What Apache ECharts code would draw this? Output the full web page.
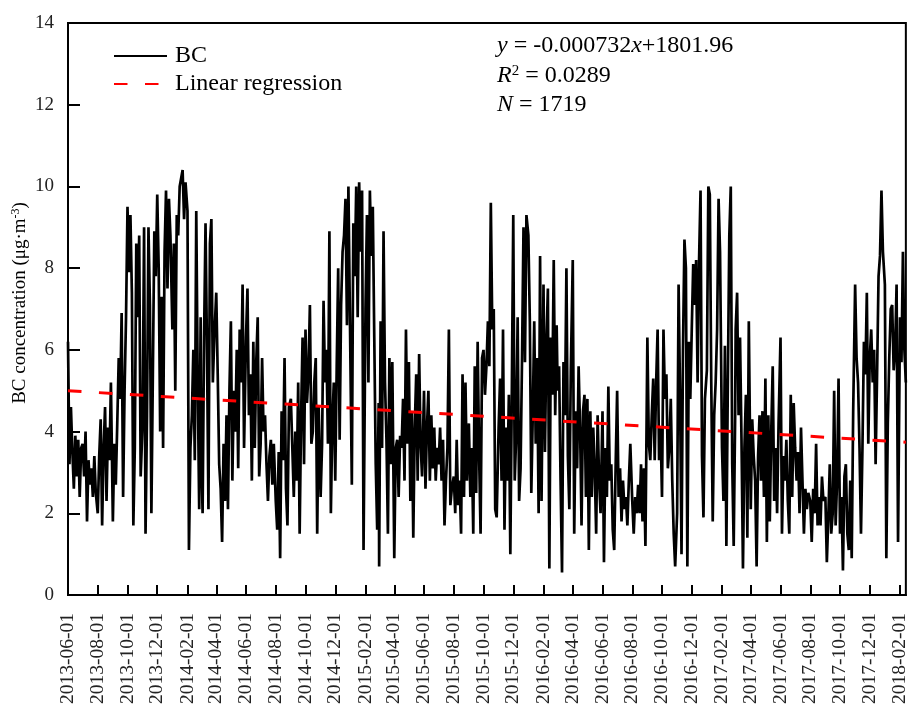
<!DOCTYPE html>
<html><head><meta charset="utf-8">
<script src="https://cdn.jsdelivr.net/npm/echarts@6/dist/echarts.min.js"></script>
<style>html,body{margin:0;padding:0;background:#fff}#c{width:910px;height:707px}</style>
</head><body><div id="c"></div>
<script>
// ---- data ----
const firstDay = '2013-06-01';
const lastDay = '2018-02-13';            // N = 1719 daily records
const sampleDays = [1,4,7,10,13,16,19,22,25,28]; // days of each month
const bcValues = [
/*2013-06*/ 6.2,3.2,4.6,3.5,2.6,3.9,2.9,3.8,2.4,3.6,
/*2013-07*/ 3.7,2.9,4.0,1.8,3.3,2.7,3.1,2.4,3.4,2.5,
/*2013-08*/ 2.0,3.4,4.3,1.7,3.6,4.6,2.3,4.1,3.3,5.2,
/*2013-09*/ 1.8,3.7,2.7,4.2,5.8,4.8,6.9,2.4,5.0,6.8,
/*2013-10*/ 9.5,7.9,9.3,7.4,1.7,3.6,8.6,6.8,8.8,2.9,
/*2013-11*/ 4.2,9.0,1.5,4.4,9.0,7.1,2.0,5.4,8.9,7.8,
/*2013-12*/ 9.8,8.0,4.0,7.3,3.6,8.4,9.9,7.5,9.7,8.8,
/*2014-01*/ 6.5,8.6,5.0,9.3,8.8,10.0,10.2,10.4,9.2,10.1,
/*2014-02*/ 9.4,1.1,3.6,4.4,6.0,3.3,9.4,5.2,2.1,6.8,
/*2014-03*/ 3.7,2.0,6.3,9.1,6.0,2.1,8.6,9.2,5.2,6.3,
/*2014-04*/ 7.4,5.4,3.2,2.6,1.3,3.7,2.3,4.4,2.1,5.0,
/*2014-05*/ 6.7,2.8,5.0,4.0,6.0,3.1,6.5,5.2,7.6,3.6,
/*2014-06*/ 6.3,7.5,4.4,5.4,2.8,6.2,3.6,5.7,6.8,2.9,
/*2014-07*/ 3.7,5.8,4.0,4.4,3.2,2.3,3.4,3.8,2.7,3.7,
/*2014-08*/ 2.3,1.6,3.5,0.9,4.5,3.3,5.8,2.6,1.7,4.6,
/*2014-09*/ 4.8,3.6,2.4,4.0,2.8,5.2,1.5,4.4,6.3,3.2,
/*2014-10*/ 6.5,4.7,5.4,7.1,3.7,4.0,5.2,5.8,1.5,4.6,
/*2014-11*/ 2.4,3.7,7.2,5.2,6.0,3.7,8.9,2.0,4.2,5.2,
/*2014-12*/ 2.8,5.6,8.0,3.8,7.1,8.4,8.8,9.7,6.6,10.0,
/*2015-01*/ 10.0,2.7,9.1,7.8,10.0,6.8,10.1,8.4,9.9,1.1,
/*2015-02*/ 7.0,9.3,5.2,9.9,8.3,9.5,6.3,3.2,1.6,4.7,
/*2015-03*/ 0.7,6.7,3.6,8.9,5.2,3.8,1.5,5.8,3.2,5.7,
/*2015-04*/ 0.9,3.6,3.8,2.4,3.9,3.6,4.8,2.8,6.5,3.7,
/*2015-05*/ 5.7,2.3,4.5,1.4,4.1,5.4,2.8,5.9,3.7,2.9,
/*2015-06*/ 5.0,2.6,4.1,5.0,2.8,4.4,3.1,4.1,2.8,3.6,
/*2015-07*/ 3.2,4.1,2.8,3.8,1.7,2.8,3.6,6.5,2.2,2.6,
/*2015-08*/ 2.9,2.0,3.8,2.2,2.8,1.5,5.4,2.4,5.2,2.8,
/*2015-09*/ 4.2,2.4,3.6,1.5,5.6,2.5,6.2,3.4,1.5,5.8,
/*2015-10*/ 6.0,4.9,5.6,6.7,5.6,9.6,6.5,7.0,2.1,1.9,
/*2015-11*/ 4.1,5.3,2.8,6.5,1.6,4.1,2.8,4.9,1.0,4.9,
/*2015-12*/ 9.3,2.8,3.9,6.8,2.3,3.1,5.8,9.0,5.7,9.3,
/*2016-01*/ 8.8,6.7,2.5,4.4,6.7,3.7,5.8,2.0,8.3,2.3,
/*2016-02*/ 7.6,3.5,6.2,7.5,0.65,6.3,4.9,8.2,4.4,6.6,
/*2016-03*/ 5.0,5.6,2.8,0.55,5.7,4.4,8.0,3.4,2.1,5.5,
/*2016-04*/ 8.2,1.5,4.5,3.1,5.6,4.1,1.7,4.5,4.9,2.4,
/*2016-05*/ 4.8,1.1,4.5,2.4,4.1,3.1,1.5,4.4,2.8,2.0,
/*2016-06*/ 4.5,0.8,3.6,2.4,5.1,2.8,3.2,1.6,1.1,3.2,
/*2016-07*/ 5.0,2.4,3.1,1.8,2.8,2.1,2.4,1.7,2.8,3.7,
/*2016-08*/ 2.3,1.5,2.4,2.0,2.7,2.0,3.2,1.8,3.1,1.2,
/*2016-09*/ 6.3,3.7,3.3,4.4,5.3,3.3,5.2,6.5,3.3,4.1,
/*2016-10*/ 2.4,6.5,4.8,5.4,3.1,3.6,4.8,2.8,1.5,0.7,
/*2016-11*/ 2.0,7.6,4.9,1.0,6.0,8.7,8.0,0.7,6.2,4.8,
/*2016-12*/ 6.5,8.1,7.1,8.2,5.2,8.2,9.9,3.4,1.9,4.8,
/*2017-01*/ 5.5,10.0,9.8,5.2,1.8,4.4,5.2,6.5,9.7,8.4,
/*2017-02*/ 3.6,2.3,6.1,1.2,5.2,8.8,10.0,3.2,1.2,4.4,
/*2017-03*/ 6.5,7.4,4.4,6.3,3.8,0.65,3.6,4.9,1.4,6.7,
/*2017-04*/ 2.1,4.3,3.4,2.8,0.7,3.4,4.4,2.8,4.5,2.4,
/*2017-05*/ 5.3,1.3,4.4,1.8,4.0,5.6,2.3,3.6,2.0,4.2,
/*2017-06*/ 6.3,1.5,3.4,2.8,3.8,2.3,1.5,4.9,2.4,4.7,
/*2017-07*/ 3.6,2.8,3.5,2.0,4.1,2.8,1.5,2.6,2.1,2.5,
/*2017-08*/ 2.3,1.3,2.6,2.0,3.7,1.7,2.4,1.7,2.9,2.3,
/*2017-09*/ 2.4,0.8,1.9,3.2,1.5,2.0,5.0,1.7,2.8,5.3,
/*2017-10*/ 1.5,2.4,0.6,2.9,3.2,1.5,1.1,2.8,0.9,4.5,
/*2017-11*/ 7.6,5.8,5.2,3.6,1.5,3.6,6.2,5.4,7.4,3.7,
/*2017-12*/ 5.8,6.5,5.2,6.0,3.2,5.4,7.8,8.3,9.9,8.4,
/*2018-01*/ 7.6,0.9,4.2,5.8,7.0,7.1,5.5,6.0,7.6,1.3,
/*2018-02*/ 6.8,5.7,8.4,6.0,5.2
];
const regressionEnds = [5.0, 3.74]; // fitted line at first and last day
const yMin = 0, yMax = 14, yStep = 2;
const equationLines = ['{i|y} = -0.000732{i|x}+1801.96', '{i|R}{s|2} = 0.0289', '{i|N} = 1719'];

// ---- build ----
function fmt(t){ return new Date(t).toISOString().slice(0,10); }
const days = [];
for (let t = Date.parse(firstDay+'T00:00:00Z'); t <= Date.parse(lastDay+'T00:00:00Z'); t += 86400000) days.push(fmt(t));
const dayIndex = {}; days.forEach((d,i)=>{ dayIndex[d]=i; });
const bcData = [];
{
  let k = 0, y = 2013, m = 5;
  while (k < bcValues.length) {
    for (const sd of sampleDays) {
      if (k >= bcValues.length) break;
      const key = fmt(Date.UTC(y, m, sd));
      bcData.push([dayIndex[key], bcValues[k++]]);
    }
    m++; if (m > 11) { m = 0; y++; }
  }
}
const regData = [[0, regressionEnds[0]], [days.length-1, regressionEnds[1]]];
const isTick = (i, v) => v.slice(8) === '01' && (+v.slice(5,7)) % 2 === 0;
const FF = '"Liberation Serif", "Times New Roman", serif';

const chart = echarts.init(document.getElementById('c'), null, {renderer:'canvas'});
chart.setOption({
  animation:false,
  backgroundColor:'#fff',
  grid:{left:68, top:23, width:845, height:572.5, show:true, borderColor:'#000', borderWidth:2, backgroundColor:'transparent'},
  xAxis:{
    type:'category', data:days, boundaryGap:false,
    axisLine:{show:true, lineStyle:{color:'#000', width:2}},
    axisTick:{show:true, inside:true, length:10, interval:isTick, lineStyle:{color:'#000', width:2}},
    axisLabel:{interval:isTick, rotate:90, margin:18, fontFamily:FF, fontSize:19.5, color:'#222', showMinLabel:true, showMaxLabel:true},
    splitLine:{show:false}
  },
  yAxis:{
    type:'value', min:yMin, max:yMax, interval:yStep,
    axisLine:{show:true, lineStyle:{color:'#000', width:2}},
    axisTick:{show:true, inside:true, length:12, lineStyle:{color:'#000', width:2}},
    axisLabel:{margin:14, fontFamily:FF, fontSize:19, color:'#222'},
    splitLine:{show:false}
  },
  legend:{
    left:113, top:44, padding:0, orient:'vertical', itemWidth:53, itemHeight:14, itemGap:4,
    itemStyle:{opacity:0},
    textStyle:{fontFamily:FF, fontSize:24, color:'#000', padding:[0,0,0,3]},
    data:['BC','Linear regression']
  },
  series:[
    {name:'BC', type:'line', data:bcData, symbol:'none', showSymbol:false,
     lineStyle:{color:'#000', width:2.7}, itemStyle:{color:'#000'}, z:2},
    {name:'Linear regression', type:'line', data:regData, symbol:'none', showSymbol:false,
     lineStyle:{color:'#ff0000', width:3, type:[13.5,17.5]}, itemStyle:{color:'#ff0000'}, z:3}
  ],
  graphic:[
    ...equationLines.map((t, i) => ({
      type:'text', left:497, top:34 + i*29.5, z:10,
      style:{text:t, fill:'#000', fontFamily:FF, fontSize:24,
        rich:{
          i:{fontStyle:'italic', fontFamily:FF, fontSize:24, fill:'#000'},
          s:{fontFamily:FF, fontSize:15, fill:'#000', verticalAlign:'top', padding:[0,0,10,0]}
        }}
    })),
    {type:'text', x:20, y:303, rotation:Math.PI/2, z:10,
     style:{text:'BC concentration (μg·m{s|-3})', fill:'#000', fontFamily:FF, fontSize:19, align:'center', verticalAlign:'middle',
       rich:{s:{fontFamily:FF, fontSize:12, fill:'#000', verticalAlign:'top', padding:[0,0,8,0]}}}}
  ]
});
</script></body></html>
